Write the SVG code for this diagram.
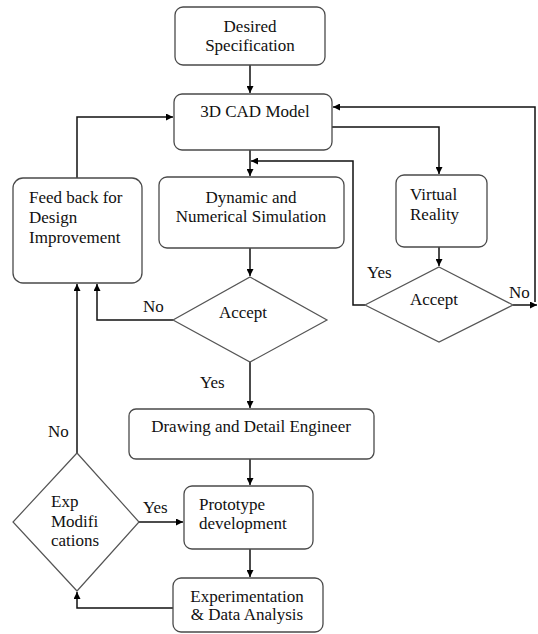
<svg xmlns="http://www.w3.org/2000/svg" width="538" height="634" viewBox="0 0 538 634">
<style>
.box{fill:#fff;stroke:#4a4a4a;stroke-width:1.3}
.dia{fill:#fff;stroke:#555;stroke-width:1.2}
.c{fill:none;stroke:#111;stroke-width:1.5}
text{font-family:'Liberation Serif','DejaVu Serif',serif;font-size:17px;fill:#111}
.m{text-anchor:middle}
</style>
<defs>
<marker id="ah" viewBox="0 0 10 10" refX="10" refY="5" markerWidth="7" markerHeight="7" markerUnits="userSpaceOnUse" orient="auto">
<path d="M0,0 L10,5 L0,10 z" fill="#000"/>
</marker>
</defs>
<rect width="538" height="634" fill="#fff"/>
<g id="connectors">
<path class="c" d="M250,65 V93" marker-end="url(#ah)"/>
<path class="c" d="M77,178 V117 H173" marker-end="url(#ah)"/>
<path class="c" d="M250,150 V176" marker-end="url(#ah)"/>
<path class="c" d="M332,127 H439 V174" marker-end="url(#ah)"/>
<path class="c" d="M439,247 V266" marker-end="url(#ah)"/>
<path class="c" d="M365,305 H353 V161 H251" marker-end="url(#ah)"/>
<path class="c" d="M513,305 H537" marker-end="url(#ah)"/>
<path class="c" d="M535,302 V107 H333" marker-end="url(#ah)"/>
<path class="c" d="M250,248 V276" marker-end="url(#ah)"/>
<path class="c" d="M173,320 H97 V284" marker-end="url(#ah)"/>
<path class="c" d="M250,362 V408" marker-end="url(#ah)"/>
<path class="c" d="M250,459 V485" marker-end="url(#ah)"/>
<path class="c" d="M250,549 V577" marker-end="url(#ah)"/>
<path class="c" d="M173,608 H77 V592" marker-end="url(#ah)"/>
<path class="c" d="M139,522 H183" marker-end="url(#ah)"/>
<path class="c" d="M77,453 V284" marker-end="url(#ah)"/>
</g>
<g id="desired">
<rect class="box" x="175" y="7" width="150" height="58" rx="8"/>
<text class="m" x="250" y="32">Desired</text>
<text class="m" x="250" y="51">Specification</text>
</g>
<g id="cad">
<rect class="box" x="174" y="94" width="158" height="56" rx="8"/>
<text class="m" x="255" y="117">3D CAD  Model</text>
</g>
<g id="feedback">
<rect class="box" x="13" y="178" width="129" height="105" rx="10"/>
<text x="29" y="203">Feed back for</text>
<text x="29" y="223">Design</text>
<text x="29" y="243">Improvement</text>
</g>
<g id="dynamic">
<rect class="box" x="159" y="177" width="185" height="71" rx="8"/>
<text class="m" x="251" y="203">Dynamic and</text>
<text class="m" x="251" y="222">Numerical Simulation</text>
</g>
<g id="vr">
<rect class="box" x="396" y="175" width="91" height="72" rx="8"/>
<text x="410" y="200">Virtual</text>
<text x="410" y="220">Reality</text>
</g>
<g id="accept1">
<polygon class="dia" points="250,277 327,320 250,362 173,320"/>
<text class="m" x="243" y="318">Accept</text>
</g>
<g id="accept2">
<polygon class="dia" points="439,267 513,305 439,342 365,305"/>
<text class="m" x="434" y="305">Accept</text>
</g>
<g id="drawing">
<rect class="box" x="129" y="409" width="245" height="50" rx="7"/>
<text class="m" x="251" y="432">Drawing and Detail Engineer</text>
</g>
<g id="prototype">
<rect class="box" x="184" y="486" width="129" height="63" rx="8"/>
<text x="199" y="510">Prototype</text>
<text x="199" y="529">development</text>
</g>
<g id="experiment">
<rect class="box" x="173" y="578" width="150" height="54" rx="8"/>
<text class="m" x="247" y="602">Experimentation</text>
<text class="m" x="247" y="620">&amp; Data Analysis</text>
</g>
<g id="expmod">
<polygon class="dia" points="77,453 139,522 77,591 13,522"/>
<text x="51" y="507">Exp</text>
<text x="51" y="527">Modifi</text>
<text x="51" y="546">cations</text>
</g>
<g id="labels">
<text x="367" y="278">Yes</text>
<text x="509" y="298">No</text>
<text x="143" y="312">No</text>
<text x="200" y="388">Yes</text>
<text x="48" y="437">No</text>
<text x="143" y="513">Yes</text>
</g>
</svg>
